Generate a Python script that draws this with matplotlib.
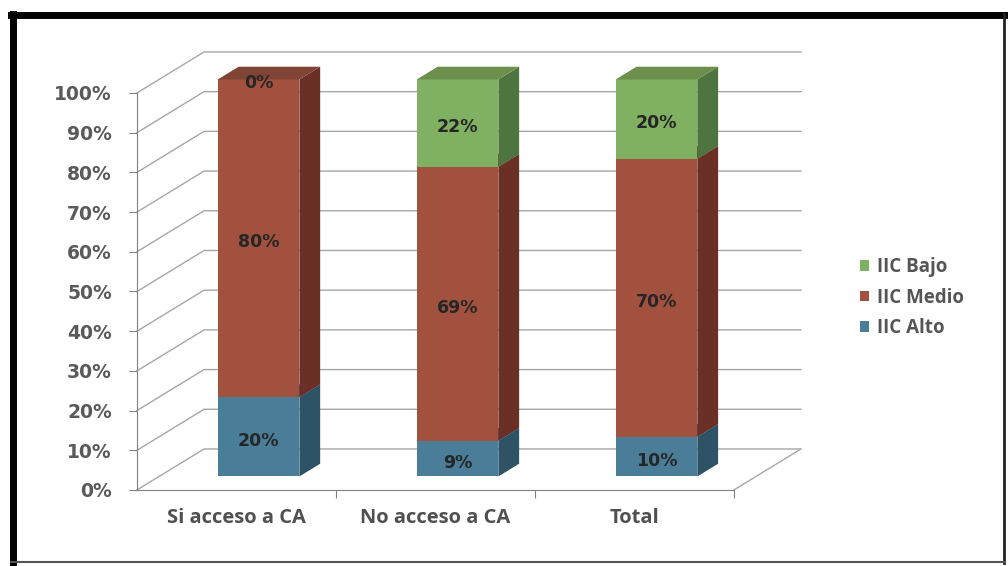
import numpy as np
import matplotlib
matplotlib.use("Agg")
import matplotlib.pyplot as plt
from matplotlib.lines import Line2D

### datos de la gráfica
categorias = ["Si acceso a CA", "No acceso a CA", "Total"]
series = ["IIC Alto", "IIC Medio", "IIC Bajo"]
iic_alto = [20, 9, 10]
iic_medio = [80, 69, 70]
iic_bajo = [0, 22, 20]
valores = [iic_alto, iic_medio, iic_bajo]
ticks_y = [0, 10, 20, 30, 40, 50, 60, 70, 80, 90, 100]

### colores (frente, lado, arriba)
col_frente = ["#4a7e98", "#a3513f", "#80b062"]
col_lado = ["#2e5366", "#6a3026", "#4e7540"]
col_arriba = ["#3d6a80", "#7f4433", "#6d8f4c"]

### profundidad falsa del 3D (en unidades de datos)
DX = 0.337      # desplazamiento horizontal del fondo
DY = 10.33      # desplazamiento vertical del fondo
f0, f1 = 0.33, 0.64   # cara frontal y trasera de la barra
ancho = 0.41

fig = plt.figure(figsize=(10.08, 5.66), dpi=100)
ax = fig.add_axes([0.1359, 0.1343, 0.6587, 0.7739])
ax.set_xlim(-0.5, len(categorias) - 0.5 + DX)
ax.set_ylim(0, 100 + DY)
ax.patch.set_visible(False)

gris = "#a6a6a6"
# pared del fondo y lado izquierdo
for v in ticks_y:
    ax.plot([-0.5, -0.5 + DX, len(categorias) - 0.5 + DX], [v, v + DY, v + DY],
            color=gris, lw=1, zorder=1, clip_on=False)
# borde derecho del piso
ax.plot([len(categorias) - 0.5, len(categorias) - 0.5 + DX], [0, DY], color=gris, lw=1, zorder=1)

### barras apiladas
x = np.arange(len(categorias))
base = np.zeros(len(categorias))
barras = []
for s, nombre in enumerate(series):
    h = np.array(valores[s], dtype=float)
    b = ax.bar(x + f0 * DX, h, width=ancho, bottom=base + f0 * DY,
               color=col_frente[s], label=nombre, zorder=3)
    barras.append(b)
    for i in range(len(categorias)):
        if h[i] <= 0:
            continue
        xl = x[i] + f0 * DX - ancho / 2
        xr = x[i] + f0 * DX + ancho / 2
        y0 = base[i]
        y1 = base[i] + h[i]
        # cara lateral
        ax.fill([xr, xr + (f1 - f0) * DX, xr + (f1 - f0) * DX, xr],
                [y0 + f0 * DY, y0 + f1 * DY, y1 + f1 * DY, y1 + f0 * DY],
                color=col_lado[s], zorder=3, lw=0)
        # cara superior
        ax.fill([xl, xl + (f1 - f0) * DX, xr + (f1 - f0) * DX, xr],
                [y1 + f0 * DY, y1 + f1 * DY, y1 + f1 * DY, y1 + f0 * DY],
                color=col_arriba[s], zorder=3, lw=0)
    # etiquetas de datos
    for i in range(len(categorias)):
        ax.text(x[i] + f0 * DX, base[i] + h[i] / 2 + f0 * DY - 1, f"{valores[s][i]}%",
                ha="center", va="center", fontsize=12.5, color="#262626",
                fontweight="bold" if i == 0 else "semibold", zorder=5)
    base = base + h

### ejes
for lado in ["top", "right"]:
    ax.spines[lado].set_visible(False)
ax.spines["left"].set_bounds(0, 100)
ax.spines["bottom"].set_bounds(-0.5, len(categorias) - 0.5)
ax.spines["left"].set_color("#808080")
ax.spines["bottom"].set_color("#808080")
ax.set_yticks(ticks_y)
ax.set_yticklabels([f"{v}%" for v in ticks_y], fontsize=13.5, fontweight="bold", color="#5a5a5a")
ax.tick_params(axis="y", length=6, pad=12, color="#808080")
ax.set_xticks(x[:] + 0.5)
ax.set_xticklabels([])
ax.set_xticks(x, minor=True)
ax.set_xticklabels(categorias, minor=True, fontsize=14.5, fontweight="bold",
                   color="#505050", family=["Open Sans", "DejaVu Sans"])
ax.tick_params(axis="x", which="major", length=6, color="#808080")
ax.tick_params(axis="x", which="minor", length=0, pad=13)

### leyenda
ax.legend(handles=barras[::-1], labels=series[::-1], loc="center left",
          bbox_to_anchor=(0.836, 0.474), bbox_transform=fig.transFigure,
          frameon=False, handlelength=0.5, handleheight=0.5, handletextpad=0.45,
          labelspacing=0.55, prop={"family": ["Open Sans", "DejaVu Sans"], "weight": "bold", "size": 13.5},
          labelcolor="#555555")

### marco negro
fig.add_artist(Line2D([0.013, 0.013], [0.005, 0.975], color="black", lw=5, transform=fig.transFigure))
fig.add_artist(Line2D([0.011, 0.997], [0.973, 0.973], color="black", lw=5, transform=fig.transFigure))
fig.add_artist(Line2D([0.996, 0.996], [0.005, 0.975], color="#222222", lw=2, transform=fig.transFigure))
fig.add_artist(Line2D([0.011, 0.997], [0.007, 0.007], color="#555555", lw=1.5, transform=fig.transFigure))

fig.savefig("out.png", dpi=100)
